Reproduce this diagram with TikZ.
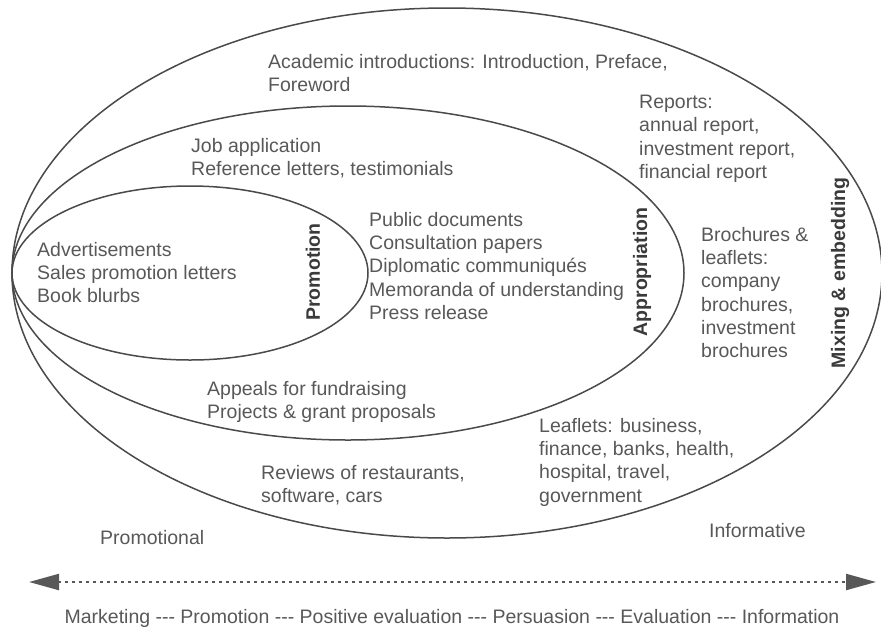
\documentclass[tikz,border=0pt]{standalone}
\usepackage{fontspec}
\setmainfont{Liberation Sans}
\usetikzlibrary{shapes.geometric,arrows.meta}
\definecolor{txt}{HTML}{585858}
\definecolor{lbl}{HTML}{3A3A3A}
\definecolor{ln}{HTML}{4A4A4A}
\begin{document}
\begin{tikzpicture}[x=1pt,y=-1pt,
  ring/.style={draw=ln,line width=1.5pt,ellipse,inner sep=0pt},
  txtblock/.style={anchor=north west,align=left,text=txt,inner sep=0pt,
    font=\fontsize{19.5}{23.3}\selectfont},
  oneline/.style={anchor=base west,text=txt,inner sep=0pt,
    font=\fontsize{19.5}{23.3}\selectfont},
  sidelabel/.style={rotate=90,text=lbl,inner sep=0pt,
    font=\fontsize{19.5}{23.3}\selectfont\bfseries},
  scalearrow/.style={draw=txt,line width=2.2pt,dash pattern=on 2.6pt off 4.4pt,
    {Triangle[length=30pt,width=16pt]}-{Triangle[length=30pt,width=16pt]}}]
\useasboundingbox (0,0) rectangle (881,630);

% nested genre fields, all touching at the left
\node[ring,minimum width=870pt,minimum height=530pt] (mix) at (447,273) {};
\node[ring,minimum width=672pt,minimum height=334pt] (appr) at (348,273) {};
\node[ring,minimum width=356pt,minimum height=174pt] (promo) at (190,273) {};

% field labels
\node[sidelabel] (lpromo) at (313,272) {Promotion};
\node[sidelabel] (lappr) at (642,272) {Appropriation};
\node[sidelabel] (lmix) at (840,273) {Mixing \& embedding};

% genres (node tops at the cap line of the first row)
\node[txtblock] (acad) at (268,54) {Academic introductions: Introduction, Preface,\\Foreword};
\node[txtblock] (job) at (191,138) {Job application\\Reference letters, testimonials};
\node[txtblock] (adv) at (37,242) {Advertisements\\Sales promotion letters\\Book blurbs};
\node[txtblock] (pub) at (369,212) {Public documents\\Consultation papers\\Diplomatic communiqués\\Memoranda of understanding\\Press release};
\node[txtblock] (rep) at (639,95) {Reports:\\annual report,\\investment report,\\financial report};
\node[txtblock] (broch) at (701,227) {Brochures \&\\leaflets:\\company\\brochures,\\investment\\brochures};
\node[txtblock] (appeal) at (207,381) {Appeals for fundraising\\Projects \& grant proposals};
\node[txtblock] (rev) at (261,465) {Reviews of restaurants,\\software, cars};
\node[txtblock] (leaf) at (539,418) {Leaflets: business,\\finance, banks, health,\\hospital, travel,\\government};

% poles of the scale
\node[oneline] (promotional) at (100,544) {Promotional};
\node[oneline] (informative) at (709,537) {Informative};

% scale arrow
\coordinate (aL) at (29,582);
\coordinate (aR) at (876,582);
\draw[scalearrow] (aL) -- (aR);

\node[text=txt,inner sep=0pt,font=\fontsize{19.5}{23.3}\selectfont] (cline) at (452,618)
  {Marketing -{}-{}- Promotion -{}-{}- Positive evaluation -{}-{}- Persuasion -{}-{}- Evaluation -{}-{}- Information};
\end{tikzpicture}
\end{document}
